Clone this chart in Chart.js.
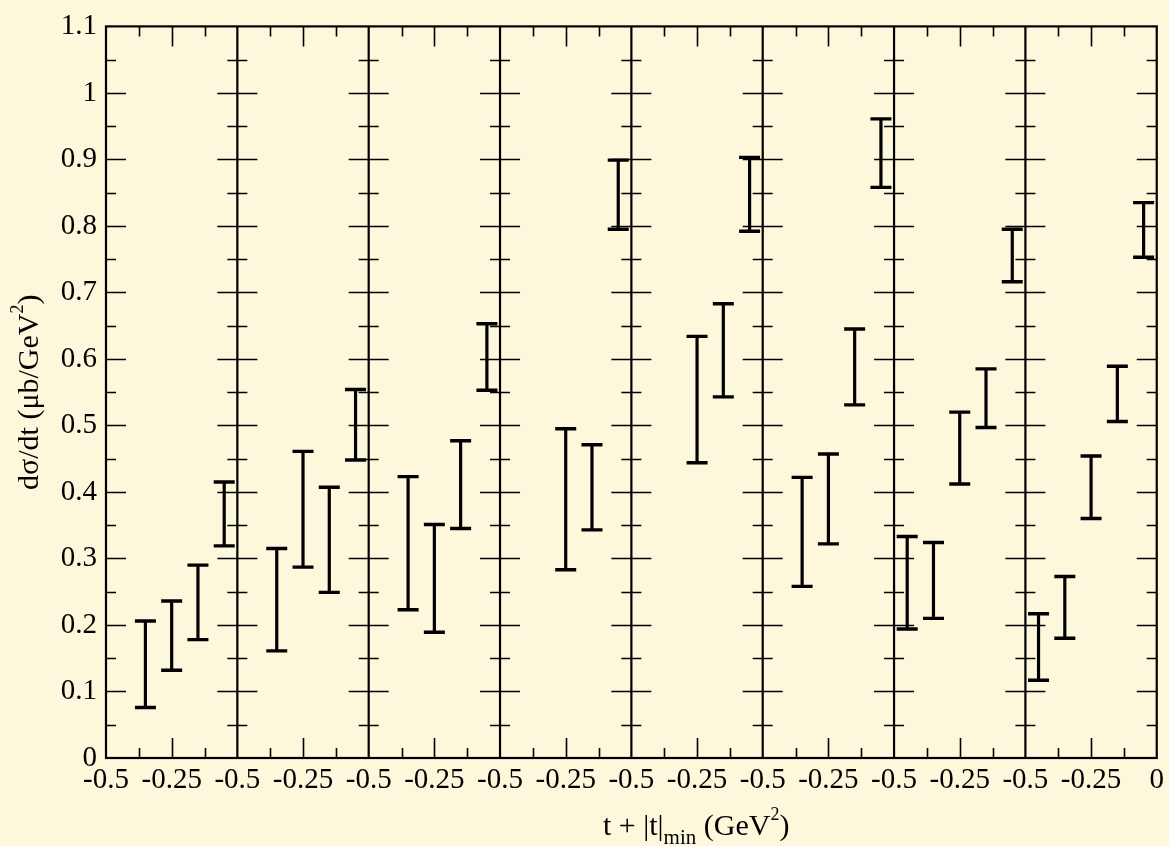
<!DOCTYPE html>
<html>
<head>
<meta charset="utf-8">
<script src="https://cdn.jsdelivr.net/npm/chart.js@4"></script>
<style>
  html, body { margin: 0; padding: 0; background: #fdf7dc; }
  canvas { display: block; }
</style>
</head>
<body>
<canvas id="c" width="1169" height="846"></canvas>
<script>
// t + |t|_min positions (GeV^2) at which the cross section is measured
const tValues = [-0.45, -0.35, -0.25, -0.15, -0.05];

// Lower and upper ends of each error bar, one row per energy bin (panel)
const panelLow = [
  [null, 0.076, 0.132, 0.178, 0.319],
  [null, 0.161, 0.287, 0.249, 0.448],
  [null, 0.223, 0.189, 0.345, 0.553],
  [null, null,  0.283, 0.343, 0.795],
  [null, null,  0.444, 0.543, 0.792],
  [null, 0.258, 0.322, 0.531, 0.858],
  [0.194, 0.210, 0.412, 0.497, 0.716],
  [0.117, 0.180, 0.360, 0.506, 0.753]
];
const panelHigh = [
  [null, 0.206, 0.236, 0.290, 0.415],
  [null, 0.315, 0.461, 0.407, 0.554],
  [null, 0.423, 0.351, 0.477, 0.653],
  [null, null,  0.495, 0.471, 0.899],
  [null, null,  0.634, 0.683, 0.903],
  [null, 0.422, 0.457, 0.645, 0.961],
  [0.333, 0.324, 0.520, 0.585, 0.795],
  [0.217, 0.273, 0.454, 0.589, 0.835]
];

// Axis ticks
const yTickValues = [0, 0.1, 0.2, 0.3, 0.4, 0.5, 0.6, 0.7, 0.8, 0.9, 1.0, 1.1];
const yTickLabels = ['0', '0.1', '0.2', '0.3', '0.4', '0.5', '0.6', '0.7', '0.8', '0.9', '1', '1.1'];
const panelTickLabels = ['-0.5', '-0.25'];   // left edge and middle of each panel
const lastTickLabel = '0';                    // right edge of the last panel

const PANEL_SPAN = 0.5;                       // each panel runs from t = -0.5 to 0
const panelCount = panelLow.length;
const toU = (p, t) => p * PANEL_SPAN + (t + PANEL_SPAN);

const INK = '#000000';
const SERIF = '"Liberation Serif", "Times New Roman", serif';

// one scatter dataset per panel; the point carries its error-bar limits
const datasets = panelLow.map((lows, p) => ({
  data: tValues.map((t, i) => lows[i] == null ? null : {
    x: toU(p, t),
    y: (lows[i] + panelHigh[p][i]) / 2,
    lo: lows[i],
    hi: panelHigh[p][i]
  }).filter(Boolean),
  pointRadius: 0,
  pointHoverRadius: 0,
  showLine: false
}));

// panel frames, dividers and in-pointing tick marks
const framePlugin = {
  id: 'panelFrame',
  beforeDatasetsDraw(chart) {
    const { ctx, chartArea: a, scales: { x, y } } = chart;
    ctx.save();
    ctx.strokeStyle = INK;
    ctx.lineCap = 'butt';
    // tick marks
    ctx.lineWidth = 1.6;
    ctx.beginPath();
    for (let p = 0; p < panelCount; p++) {
      for (let k = 1; k <= 3; k++) {
        const px = Math.round(x.getPixelForValue(p * PANEL_SPAN + k * 0.125)) + 0.5;
        const len = k === 2 ? 20 : 10;
        ctx.moveTo(px, a.bottom); ctx.lineTo(px, a.bottom - len);
        ctx.moveTo(px, a.top); ctx.lineTo(px, a.top + len);
      }
      const xl = x.getPixelForValue(p * PANEL_SPAN);
      const xr = x.getPixelForValue((p + 1) * PANEL_SPAN);
      for (let j = 1; j < 22; j++) {
        const py = Math.round(y.getPixelForValue(j * 0.05)) + 0.5;
        const len = j % 2 === 0 ? 20 : 10;
        ctx.moveTo(xl, py); ctx.lineTo(xl + len, py);
        ctx.moveTo(xr, py); ctx.lineTo(xr - len, py);
      }
    }
    ctx.stroke();
    // panel dividers and outer frame
    ctx.lineWidth = 2.2;
    ctx.beginPath();
    for (let p = 1; p < panelCount; p++) {
      const px = x.getPixelForValue(p * PANEL_SPAN);
      ctx.moveTo(px, a.top); ctx.lineTo(px, a.bottom);
    }
    ctx.stroke();
    ctx.strokeRect(a.left, a.top, a.right - a.left, a.bottom - a.top);
    ctx.restore();
  }
};

// vertical error bars with flat caps
const errorBarPlugin = {
  id: 'errorBars',
  afterDatasetsDraw(chart) {
    const { ctx, scales: { x, y } } = chart;
    ctx.save();
    ctx.strokeStyle = INK;
    ctx.lineCap = 'butt';
    chart.data.datasets.forEach(ds => {
      ds.data.forEach(pt => {
        const px = x.getPixelForValue(pt.x);
        const yLo = y.getPixelForValue(pt.lo);
        const yHi = y.getPixelForValue(pt.hi);
        ctx.lineWidth = 3.2;
        ctx.beginPath();
        ctx.moveTo(px, yLo); ctx.lineTo(px, yHi);
        ctx.stroke();
        ctx.lineWidth = 3.4;
        ctx.beginPath();
        ctx.moveTo(px - 10.5, yLo); ctx.lineTo(px + 10.5, yLo);
        ctx.moveTo(px - 10.5, yHi); ctx.lineTo(px + 10.5, yHi);
        ctx.stroke();
      });
    });
    ctx.restore();
  }
};

// draw a run of text pieces with sub/superscripts, returns total width
function drawRuns(ctx, runs, x0, y0, measureOnly) {
  let xx = x0;
  runs.forEach(r => {
    ctx.font = r.size + 'px ' + SERIF;
    if (!measureOnly) ctx.fillText(r.text, xx, y0 + (r.dy || 0));
    xx += ctx.measureText(r.text).width;
  });
  return xx - x0;
}

const xTitleRuns = [
  { text: 't + |t|', size: 30 },
  { text: 'min', size: 21, dy: 9 },
  { text: ' (GeV', size: 30 },
  { text: '2', size: 18, dy: -15 },
  { text: ')', size: 30 }
];
const yTitleRuns = [
  { text: 'd\u03C3/dt (\u03BCb/GeV', size: 30 },
  { text: '2', size: 18, dy: -15 },
  { text: ')', size: 30 }
];

const titlePlugin = {
  id: 'axisTitles',
  afterDraw(chart) {
    const { ctx, chartArea: a } = chart;
    ctx.save();
    ctx.fillStyle = INK;
    ctx.textBaseline = 'alphabetic';
    ctx.textAlign = 'left';
    drawRuns(ctx, xTitleRuns, 603, 835);
    ctx.translate(37.5, (a.top + a.bottom) / 2);
    ctx.rotate(-Math.PI / 2);
    const w = drawRuns(ctx, yTitleRuns, 0, 0, true);
    drawRuns(ctx, yTitleRuns, -w / 2, 0);
    ctx.restore();
  }
};

const backgroundPlugin = {
  id: 'paper',
  beforeDraw(chart) {
    const { ctx, width, height } = chart;
    ctx.save();
    ctx.fillStyle = '#fdf7dc';
    ctx.fillRect(0, 0, width, height);
    ctx.restore();
  }
};

new Chart(document.getElementById('c'), {
  type: 'scatter',
  data: { datasets },
  options: {
    responsive: false,
    animation: false,
    events: [],
    layout: { padding: { top: 18, right: 12, left: 0, bottom: 0 } },
    plugins: { legend: { display: false }, tooltip: { enabled: false } },
    scales: {
      x: {
        type: 'linear',
        min: 0,
        max: panelCount * PANEL_SPAN,
        grid: { display: false, drawTicks: false },
        border: { display: false },
        afterBuildTicks(scale) {
          const ticks = [];
          for (let k = 0; k <= panelCount * 2; k++) ticks.push({ value: k * 0.25 });
          scale.ticks = ticks;
        },
        afterFit(scale) { scale.height = 88; },
        ticks: {
          autoSkip: false,
          maxRotation: 0,
          minRotation: 0,
          padding: 5,
          color: INK,
          font: { family: SERIF, size: 29 },
          callback(value) {
            const k = Math.round(value / 0.25);
            if (k === panelCount * 2) return lastTickLabel;
            return panelTickLabels[k % 2];
          }
        }
      },
      y: {
        type: 'linear',
        min: 0,
        max: 1.1,
        grid: { display: false, drawTicks: false },
        border: { display: false },
        afterBuildTicks(scale) {
          scale.ticks = yTickValues.map(v => ({ value: v }));
        },
        afterFit(scale) { scale.width = 106; },
        ticks: {
          padding: 9,
          color: INK,
          font: { family: SERIF, size: 29 },
          callback(value) {
            const i = yTickValues.findIndex(v => Math.abs(v - value) < 1e-6);
            return i >= 0 ? yTickLabels[i] : '';
          }
        }
      }
    }
  },
  plugins: [backgroundPlugin, framePlugin, errorBarPlugin, titlePlugin]
});
</script>
</body>
</html>
